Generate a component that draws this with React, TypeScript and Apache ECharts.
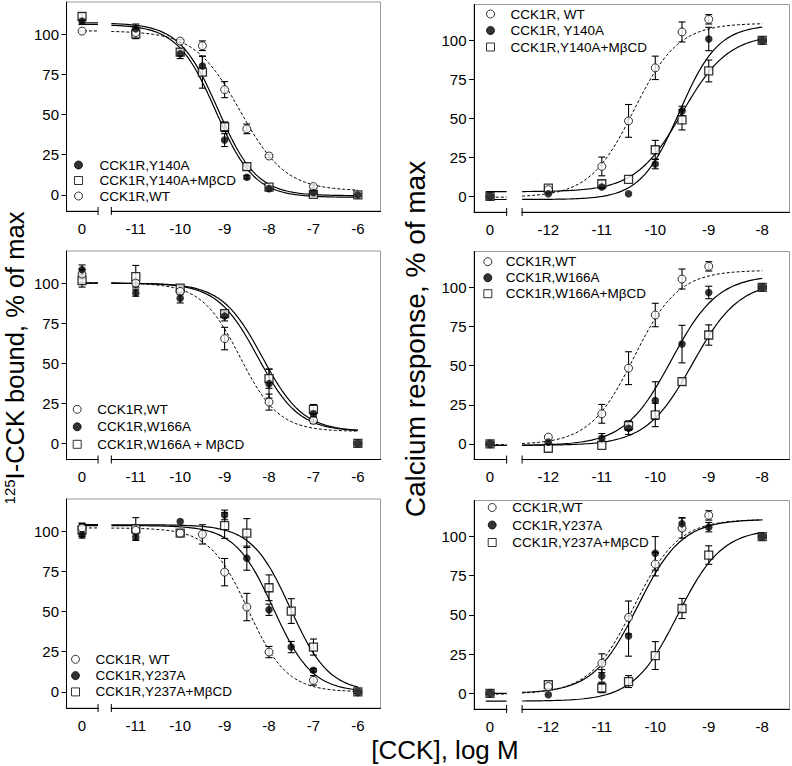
import React, { useEffect, useRef } from 'react';
import * as echarts from 'echarts';

const FONT = "'Liberation Sans', Arial, Helvetica, sans-serif";

// ---------- tick labels ----------
const bindTicks = [-11, -10, -9, -8, -7, -6];
const caTicks = [-12, -11, -10, -9, -8];
const yTicks = [0, 25, 50, 75, 100];

// ---------- doses (log M); 0 = no CCK ----------
const bindDosesA = [0, -11, -10, -9.5, -9, -8.5, -8, -7, -6];
const bindDosesC = [0, -11, -10, -9, -8, -7, -6];
const bindDosesE = [0, -11, -10, -9.5, -9, -8.5, -8, -7.5, -7, -6];
const caDoses = [0, -12, -11, -10.5, -10, -9.5, -9, -8];

// ---------- Panel A: 125I-CCK binding, Y140A ----------
const bindA_Y140A = [108, 103.3, 87.8, 80.2, 34.1, 11, 3.9, 1.4, 0];
const bindA_Y140A_err = [2, 3, 3, 6, 4, 1, 1, 1, 0];
const bindA_Y140A_MbCD = [111, 100.2, 88.8, 76.4, 42.4, 17.6, 4.8, 0.4, 0];
const bindA_Y140A_MbCD_err = [2, 3, 2, 10, 3, 2, 1, 0, 0];
const bindA_WT = [101.9, 101, 95.7, 92.8, 65.5, 41.1, 24.2, 5.2, null];
const bindA_WT_err = [0, 0, 1, 3, 5, 3, 1, 1, 0];
// fit: [asymptote at low dose, asymptote at high dose, logEC50, slope]
const fitA_Y140A = [106, -1.5, -9.2, 1];
const fitA_Y140A_MbCD = [107, -0.5, -9.15, 1];
const fitA_WT = [102, 2.5, -8.65, 0.85];

// ---------- Calcium WT (shared control) ----------
const caWT = [0, 4.3, 19.2, 48.4, 82.4, 105.4, 113.5, 100];
const caWT_err = [0, 0, 6, 10.5, 7.5, 6.4, 3, 0];
const fitCaWT = [-0.5, 111, -10.4, 1.05];

// ---------- Panel B: calcium, Y140A ----------
const caB_Y140A = [0, 1.7, 6, 1.7, 20.7, 54.8, 100.9, 100];
const caB_Y140A_err = [0, 0, 1, 0, 3, 3, 7.5, 0];
const caB_Y140A_MbCD = [0, 5.3, 8.1, 10.9, 29.9, 49, 80.4, 100];
const caB_Y140A_MbCD_err = [0, 0, 2, 0, 6, 6.4, 7, 0];
const fitB_Y140A = [-2, 110, -9.55, 1.2];
const fitB_Y140A_MbCD = [3, 104, -9.5, 1];

// ---------- Panel C: binding, W166A ----------
const bindC_WT = [105.6, 100, 94.8, 65.4, 25.8, 14.4, 0];
const bindC_WT_err = [3, 2, 2, 7, 5, 2, 0];
const bindC_W166A = [108.3, 93.8, 90.6, 79.4, 37.3, 18.5, 0];
const bindC_W166A_err = [3, 2, 3, 3, 9, 2, 0];
const bindC_W166A_MbCD = [101.5, 104, 96.9, 81, 40.4, 21.3, 0];
const bindC_W166A_MbCD_err = [4, 7, 2, 2, 6, 3, 0];
const fitC_WT = [100, 7.5, -8.65, 1];
const fitC_W166A = [100, 7.5, -8.25, 0.95];
const fitC_W166A_MbCD = [100, 7.5, -8.15, 0.95];

// ---------- Panel D: calcium, W166A ----------
const caD_W166A = [0, 1.1, 3.6, 10, 27.7, 63.8, 96.8, 100];
const caD_W166A_err = [0, 0, 3, 4, 12, 12, 4, 0];
const caD_W166A_MbCD = [0, -2.8, -1, 11.7, 18.5, 39.8, 69.6, 100];
const caD_W166A_MbCD_err = [0, 0, 0, 3, 7.5, 2, 6.5, 0];
const fitD_W166A = [-1, 108, -9.7, 1];
const fitD_W166A_MbCD = [-1, 104, -9.3, 1];

// ---------- Panel E: binding, Y237A ----------
const bindE_WT = [102, 100.5, 98.8, 98, 74.5, 52.8, 24.8, null, 7.2, 0];
const bindE_WT_err = [3, 0, 0, 6, 8.5, 8.5, 3.5, 0, 3, 0];
const bindE_Y237A = [97.7, 96.3, 106, null, 110.1, 83.2, 51.1, 27.9, 13.5, 0];
const bindE_Y237A_err = [2, 2, 0, 0, 3, 7.5, 3.5, 3.5, 1, 0];
const bindE_Y237A_MbCD = [100.8, 101.4, 98.8, null, 103.5, 98.8, 64.8, 50.3, 27.9, 0];
const bindE_Y237A_MbCD_err = [4, 7, 2, 0, 8, 9, 8, 7.7, 5, 0];
const fitE_WT = [102, 0, -8.47, 1];
const fitE_Y237A = [103.5, 0, -7.9, 1];
const fitE_Y237A_MbCD = [104, 0, -7.52, 1];

// ---------- Panel F: calcium, Y237A ----------
const caF_Y237A = [0, -0.9, 11.1, 36.5, 89.3, 108.1, 106, 100];
const caF_Y237A_err = [0, 0, 4, 12.8, 10.7, 4, 3, 0];
const caF_Y237A_MbCD = [0, 5.6, 3.4, 7.5, 24.1, 54.1, 88.2, 100];
const caF_Y237A_MbCD_err = [0, 2, 3, 3.8, 8.9, 6.4, 5.9, 0];
const fitF_Y237A = [0, 111, -10.33, 1.05];
const fitF_Y237A_MbCD = [-5, 105, -9.58, 1.05];

// ---------- layout ----------
type Col = {
  xMin: number; xMax: number; p0: number; breakL: number; breakR: number;
  xEnd: number; yMin: number; yMax: number; padL: number; ticks: number[];
};
const LEFTCOL: Col = { xMin: -12.56, xMax: -5.49, p0: -12.21, breakL: -11.85, breakR: -11.55, xEnd: -6, yMin: -10, yMax: 120, padL: 0.07, ticks: bindTicks };
const RIGHTCOL: Col = { xMin: -13.39, xMax: -7.49, p0: -13.09, breakL: -12.78, breakR: -12.49, xEnd: -8, yMin: -10, yMax: 123, padL: 0.08, ticks: caTicks };

type Kind = 'filled' | 'open' | 'square';
type SDef = { name: string; kind: Kind; ys: (number | null)[]; errs: number[]; fit: number[]; dashed: boolean };
type Panel = {
  col: Col; grid: { left: number; top: number; width: number; height: number };
  xs: number[]; series: SDef[];
  legend: { left: number; top: number; pad: number; gap: number };
};

const panels: Panel[] = [
  {
    col: LEFTCOL, grid: { left: 66.5, top: 2, width: 314, height: 209 }, xs: bindDosesA,
    series: [
      { name: 'CCK1R,Y140A', kind: 'filled', ys: bindA_Y140A, errs: bindA_Y140A_err, fit: fitA_Y140A, dashed: false },
      { name: 'CCK1R,Y140A+MβCD', kind: 'square', ys: bindA_Y140A_MbCD, errs: bindA_Y140A_MbCD_err, fit: fitA_Y140A_MbCD, dashed: false },
      { name: 'CCK1R,WT', kind: 'open', ys: bindA_WT, errs: bindA_WT_err, fit: fitA_WT, dashed: true },
    ],
    legend: { left: 74, top: 157, pad: 12, gap: -0.5 },
  },
  {
    col: RIGHTCOL, grid: { left: 474, top: 4.5, width: 315.5, height: 207.5 }, xs: caDoses,
    series: [
      { name: 'CCK1R, WT', kind: 'open', ys: caWT, errs: caWT_err, fit: fitCaWT, dashed: true },
      { name: 'CCK1R, Y140A', kind: 'filled', ys: caB_Y140A, errs: caB_Y140A_err, fit: fitB_Y140A, dashed: false },
      { name: 'CCK1R,Y140A+MβCD', kind: 'square', ys: caB_Y140A_MbCD, errs: caB_Y140A_MbCD_err, fit: fitB_Y140A_MbCD, dashed: false },
    ],
    legend: { left: 486, top: 6, pad: 11, gap: 0.5 },
  },
  {
    col: LEFTCOL, grid: { left: 66.5, top: 251, width: 314, height: 208.5 }, xs: bindDosesC,
    series: [
      { name: 'CCK1R,WT', kind: 'open', ys: bindC_WT, errs: bindC_WT_err, fit: fitC_WT, dashed: true },
      { name: 'CCK1R,W166A', kind: 'filled', ys: bindC_W166A, errs: bindC_W166A_err, fit: fitC_W166A, dashed: false },
      { name: 'CCK1R,W166A + MβCD', kind: 'square', ys: bindC_W166A_MbCD, errs: bindC_W166A_MbCD_err, fit: fitC_W166A_MbCD, dashed: false },
    ],
    legend: { left: 72.7, top: 401.3, pad: 11, gap: 1.5 },
  },
  {
    col: RIGHTCOL, grid: { left: 474, top: 251.5, width: 315.5, height: 208 }, xs: caDoses,
    series: [
      { name: 'CCK1R,WT', kind: 'open', ys: caWT, errs: caWT_err, fit: fitCaWT, dashed: true },
      { name: 'CCK1R,W166A', kind: 'filled', ys: caD_W166A, errs: caD_W166A_err, fit: fitD_W166A, dashed: false },
      { name: 'CCK1R,W166A+MβCD', kind: 'square', ys: caD_W166A_MbCD, errs: caD_W166A_MbCD_err, fit: fitD_W166A_MbCD, dashed: false },
    ],
    legend: { left: 483.3, top: 253.7, pad: 9, gap: 0 },
  },
  {
    col: LEFTCOL, grid: { left: 66.5, top: 499, width: 314, height: 209 }, xs: bindDosesE,
    series: [
      { name: 'CCK1R, WT', kind: 'open', ys: bindE_WT, errs: bindE_WT_err, fit: fitE_WT, dashed: true },
      { name: 'CCK1R,Y237A', kind: 'filled', ys: bindE_Y237A, errs: bindE_Y237A_err, fit: fitE_Y237A, dashed: false },
      { name: 'CCK1R,Y237A+MβCD', kind: 'square', ys: bindE_Y237A_MbCD, errs: bindE_Y237A_MbCD_err, fit: fitE_Y237A_MbCD, dashed: false },
    ],
    legend: { left: 71, top: 651.3, pad: 11, gap: 0.3 },
  },
  {
    col: RIGHTCOL, grid: { left: 474, top: 500.5, width: 315.5, height: 208.5 }, xs: caDoses,
    series: [
      { name: 'CCK1R,WT', kind: 'open', ys: caWT, errs: caWT_err, fit: fitCaWT, dashed: true },
      { name: 'CCK1R,Y237A', kind: 'filled', ys: caF_Y237A, errs: caF_Y237A_err, fit: fitF_Y237A, dashed: false },
      { name: 'CCK1R,Y237A+MβCD', kind: 'square', ys: caF_Y237A_MbCD, errs: caF_Y237A_MbCD_err, fit: fitF_Y237A_MbCD, dashed: false },
    ],
    legend: { left: 487.7, top: 499.5, pad: 11, gap: 1.5 },
  },
];

const logistic = (p: number[], x: number) => p[0] + (p[1] - p[0]) / (1 + Math.pow(10, (p[2] - x) * p[3]));

const MARK: Record<Kind, any> = {
  filled: { symbol: 'circle', symbolSize: 7.5, itemStyle: { color: '#000', borderColor: '#000', borderWidth: 0 }, z: 6 },
  open: { symbol: 'circle', symbolSize: 8, itemStyle: { color: '#fff', borderColor: '#000', borderWidth: 1 }, z: 5 },
  square: { symbol: 'rect', symbolSize: 8, itemStyle: { color: '#fff', borderColor: '#000', borderWidth: 1.3 }, z: 4 },
};

const errRender = (params: any, api: any) => {
  const x = api.value(0), y = api.value(1), e = api.value(2);
  const t = api.coord([x, y + e]);
  const b = api.coord([x, y - e]);
  const hw = 3.5;
  const st = { stroke: '#000', lineWidth: 1.1 };
  return {
    type: 'group',
    children: [
      { type: 'line', shape: { x1: t[0], y1: t[1], x2: b[0], y2: b[1] }, style: st },
      { type: 'line', shape: { x1: t[0] - hw, y1: t[1], x2: t[0] + hw, y2: t[1] }, style: st },
      { type: 'line', shape: { x1: b[0] - hw, y1: b[1], x2: b[0] + hw, y2: b[1] }, style: st },
    ],
  };
};

function buildOption() {
  const grid: any[] = [];
  const xAxis: any[] = [];
  const yAxis: any[] = [];
  const series: any[] = [];
  const legend: any[] = [];
  panels.forEach((p, i) => {
    const col = p.col;
    grid.push({ ...p.grid, show: true, borderColor: '#9a9a9a', borderWidth: 1, containLabel: false });
    xAxis.push({
      type: 'value', gridIndex: i, min: col.xMin, max: col.xMax,
      axisLine: { show: true, onZero: false, lineStyle: { color: '#000', width: 1 } },
      axisTick: { show: false },
      splitLine: { show: false },
      axisLabel: {
        customValues: [col.p0, ...col.ticks],
        formatter: (v: number) => (Math.abs(v - col.p0) < 1e-6 ? '0' : String(v)),
        fontSize: 15, color: '#000', fontFamily: FONT, margin: 9.5,
      },
    });
    yAxis.push({
      type: 'value', gridIndex: i, min: col.yMin, max: col.yMax,
      axisLine: { show: true, onZero: false, lineStyle: { color: '#000', width: 1 } },
      axisTick: { show: true, length: 5, customValues: yTicks, lineStyle: { color: '#000' } },
      axisLabel: { customValues: yTicks, fontSize: 15, color: '#000', fontFamily: FONT, margin: 7.5 },
      splitLine: { show: false },
    });
    p.series.forEach((s) => {
      const ls = { color: '#000', width: s.dashed ? 1 : 1.2, type: s.dashed ? [3, 2] : 'solid' };
      const common = { type: 'line', xAxisIndex: i, yAxisIndex: i, showSymbol: false, symbol: 'none', lineStyle: ls, z: 2, silent: true };
      series.push({ ...common, data: [[col.p0 - col.padL, s.fit[0]], [col.breakL, s.fit[0]]] });
      const curve: number[][] = [];
      for (let k = 0; ; k++) {
        const x = col.breakR + k * 0.05;
        if (x >= col.xEnd) break;
        curve.push([x, logistic(s.fit, x)]);
      }
      curve.push([col.xEnd, logistic(s.fit, col.xEnd)]);
      series.push({ ...common, data: curve });
      const eb: number[][] = [];
      p.xs.forEach((x, k) => {
        const y = s.ys[k];
        const e = s.errs[k];
        if (y != null && e > 0) eb.push([x === 0 ? col.p0 : x, y, e]);
      });
      series.push({ type: 'custom', xAxisIndex: i, yAxisIndex: i, renderItem: errRender, data: eb, encode: { x: 0, y: 1 }, z: 3, silent: true });
    });
    p.series.forEach((s) => {
      const pts: number[][] = [];
      p.xs.forEach((x, k) => {
        const y = s.ys[k];
        if (y != null) pts.push([x === 0 ? col.p0 : x, y]);
      });
      series.push({ type: 'scatter', name: s.name, xAxisIndex: i, yAxisIndex: i, data: pts, ...MARK[s.kind], silent: true });
    });
    legend.push({
      show: true, orient: 'vertical', left: p.legend.left, top: p.legend.top, padding: 0,
      itemWidth: 8, itemHeight: 8, itemGap: p.legend.gap, selectedMode: false,
      data: p.series.map((s) => s.name),
      itemStyle: { borderWidth: 1 },
      textStyle: { fontSize: 13.5, fontFamily: FONT, color: '#000', lineHeight: 16, padding: [0, 0, 0, p.legend.pad] },
    });
  });
  return { animation: false, backgroundColor: '#fff', grid, xAxis, yAxis, series, legend };
}

function buildGraphic(chart: any) {
  const g: any[] = [];
  panels.forEach((p, i) => {
    const col = p.col;
    const a = chart.convertToPixel({ gridIndex: i }, [col.breakL, col.yMin]);
    const b = chart.convertToPixel({ gridIndex: i }, [col.breakR, col.yMin]);
    g.push({ type: 'rect', z: 100, shape: { x: a[0] + 0.6, y: a[1] - 2, width: b[0] - a[0] - 1.2, height: 4 }, style: { fill: '#fff' } });
    g.push({ type: 'line', z: 101, shape: { x1: a[0], y1: a[1] - 4, x2: a[0], y2: a[1] + 4 }, style: { stroke: '#000', lineWidth: 1 } });
    g.push({ type: 'line', z: 101, shape: { x1: b[0], y1: b[1] - 4, x2: b[0], y2: b[1] + 4 }, style: { stroke: '#000', lineWidth: 1 } });
  });
  g.push({
    type: 'text', z: 100, x: 15, y: 358, rotation: Math.PI / 2,
    style: {
      text: '{sup|125}I-CCK bound, % of max', fontSize: 25.5, fontFamily: FONT, fill: '#000',
      align: 'center', verticalAlign: 'middle', textAlign: 'center', textVerticalAlign: 'middle',
      rich: { sup: { fontSize: 15, fontFamily: FONT, fill: '#000', verticalAlign: 'top' } },
    },
  });
  g.push({
    type: 'text', z: 100, x: 415, y: 339, rotation: Math.PI / 2,
    style: {
      text: 'Calcium response, % of max', fontSize: 28, fontFamily: FONT, fill: '#000',
      align: 'center', verticalAlign: 'middle', textAlign: 'center', textVerticalAlign: 'middle',
    },
  });
  g.push({
    type: 'text', z: 100, x: 445, y: 750,
    style: {
      text: '[CCK], log M', fontSize: 26, fontFamily: FONT, fill: '#000',
      align: 'center', verticalAlign: 'middle', textAlign: 'center', textVerticalAlign: 'middle',
    },
  });
  return g;
}

export default function App() {
  const ref = useRef<HTMLDivElement>(null);
  useEffect(() => {
    const chart = echarts.init(ref.current!, null, { renderer: 'svg' });
    chart.setOption(buildOption() as any);
    chart.setOption({ graphic: buildGraphic(chart) } as any);
    return () => chart.dispose();
  }, []);
  return (
    <div
      ref={ref}
      style={{ position: 'absolute', left: 0, top: 0, width: 792, height: 766, background: '#fff' }}
    />
  );
}
